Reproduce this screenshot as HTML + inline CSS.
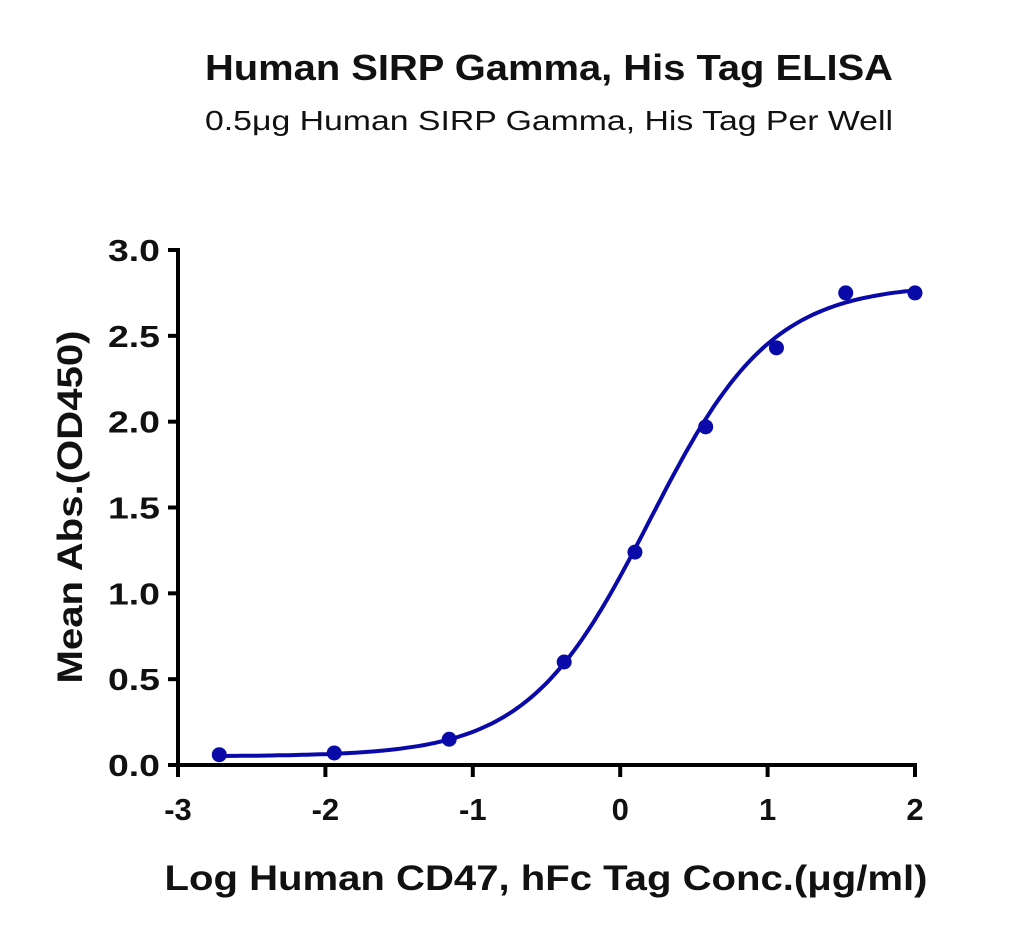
<!DOCTYPE html>
<html><head><meta charset="utf-8"><style>
body{margin:0;background:#fff;}
svg text{font-family:"Liberation Sans","DejaVu Sans",sans-serif;}
</style></head><body>
<svg width="1030" height="935" xmlns="http://www.w3.org/2000/svg">
<text x="549" y="80" text-anchor="middle" font-size="36" font-weight="bold" fill="#111" textLength="688" lengthAdjust="spacingAndGlyphs">Human SIRP Gamma, His Tag ELISA</text>
<text x="549" y="130" text-anchor="middle" font-size="28" fill="#111" textLength="688" lengthAdjust="spacingAndGlyphs">0.5μg Human SIRP Gamma, His Tag Per Well</text>
<g id="plot"></g>
<text x="546" y="890" text-anchor="middle" font-size="35" font-weight="bold" fill="#111" textLength="763" lengthAdjust="spacingAndGlyphs">Log Human CD47, hFc Tag Conc.(μg/ml)</text>
<text transform="translate(82,507) rotate(-90)" text-anchor="middle" font-size="35" font-weight="bold" fill="#111" textLength="353" lengthAdjust="spacingAndGlyphs">Mean Abs.(OD450)</text>
</svg>
<script>
const xValues=[-2.72,-1.94,-1.16,-0.38,0.10,0.58,1.06,1.53,2.00];
const yValues=[0.06,0.07,0.15,0.60,1.24,1.97,2.43,2.75,2.75];
const xTicks=[-3,-2,-1,0,1,2];
const yTicks=[0.0,0.5,1.0,1.5,2.0,2.5,3.0];
const fitParams=[0.05,2.80,0.2,1.05]; // bottom, top, logEC50, hill
const X0=178,X1=915,Y0=765,Y1=250;
const xs=v=>X0+(v-(-3))/(5)*(X1-X0);
const ys=v=>Y0-(v/3)*(Y0-Y1);
const NS='http://www.w3.org/2000/svg';
const g=document.getElementById('plot');
function mk(t,a){const e=document.createElementNS(NS,t);for(const k in a)e.setAttribute(k,a[k]);g.appendChild(e);return e;}
let e=mk('line',{x1:X0,y1:Y1-2,x2:X0,y2:Y0+2,stroke:'#000','stroke-width':4});


e=mk('line',{x1:X0-2,y1:Y0,x2:X1+2,y2:Y0,stroke:'#000','stroke-width':4});


yTicks.forEach(t=>{
 const y=ys(t);
 let l=mk('line',{x1:X0-10,y1:y,x2:X0,y2:y,stroke:'#000','stroke-width':4});
 
 
 let tx=mk('text',{x:X0-18,y:y+11,'text-anchor':'end','font-size':31,'font-weight':'bold',fill:'#111',textLength:52,lengthAdjust:'spacingAndGlyphs'});
 tx.textContent=t.toFixed(1);
 
 
});
xTicks.forEach(t=>{
 const x=xs(t);
 let l=mk('line',{x1:x,y1:Y0,x2:x,y2:Y0+12,stroke:'#000','stroke-width':4});
 
 
 let tx=mk('text',{x:x,y:Y0+55,'text-anchor':'middle','font-size':31,'font-weight':'bold',fill:'#111'});
 tx.textContent=t;
 
 
});
const [b,tp,ec,h]=fitParams;
let d='';
for(let i=0;i<=200;i++){const xv=xValues[0]+(xValues[xValues.length-1]-xValues[0])*i/200;
 const yv=b+(tp-b)/(1+Math.pow(10,(ec-xv)*h));
 d+=(i?'L':'M')+xs(xv).toFixed(1)+','+ys(yv).toFixed(1);}
e=mk('path',{d:d,fill:'none',stroke:'#0a0aa8','stroke-width':4});


xValues.forEach((xv,i)=>{
 let c=mk('circle',{cx:xs(xv),cy:ys(yValues[i]),r:7.5,fill:'#0a0aa8'});
 
 
});
</script>
</body></html>
